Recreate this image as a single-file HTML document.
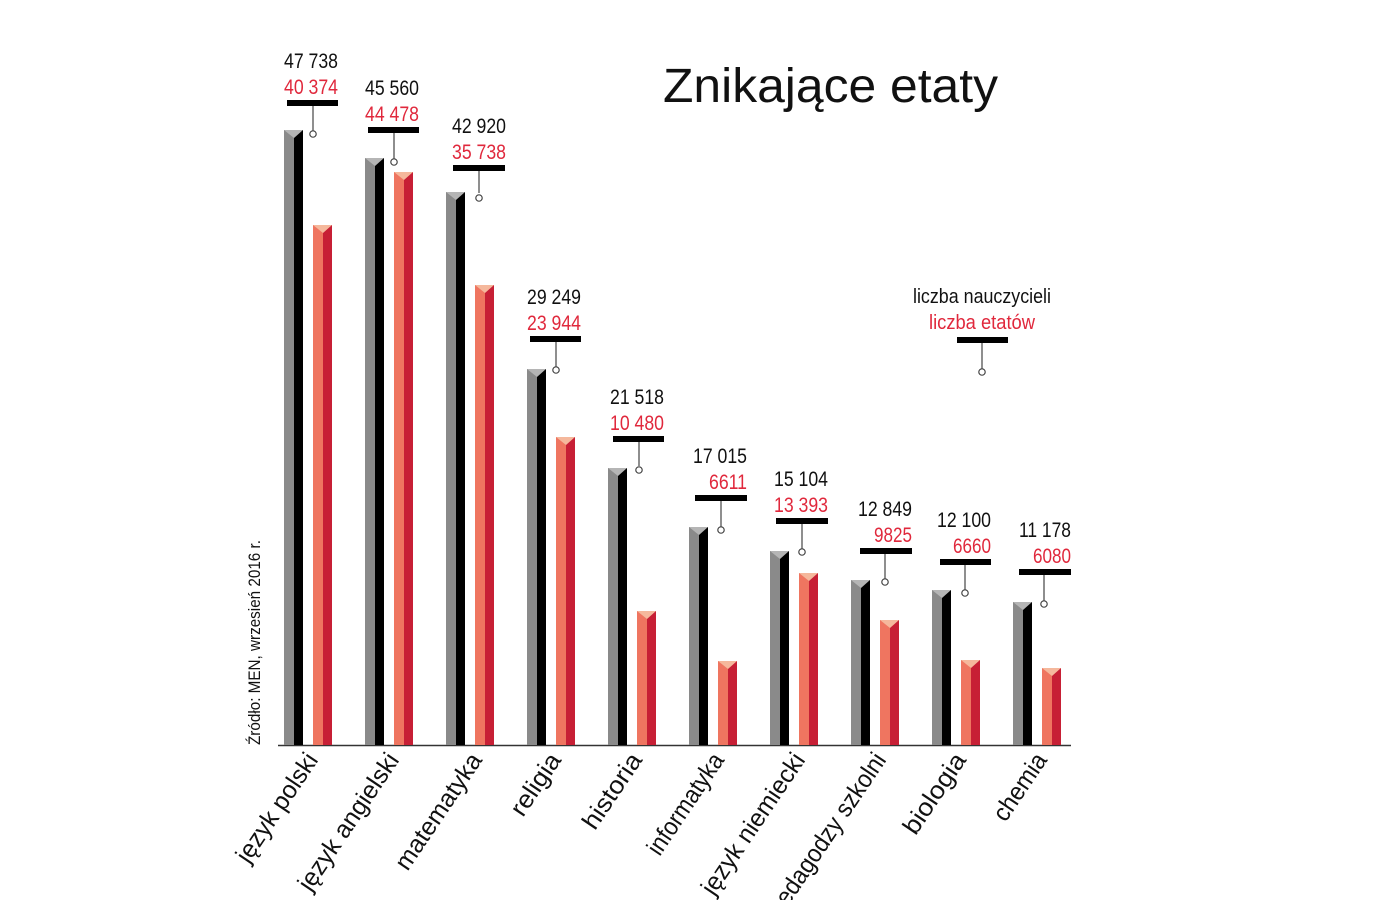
<!DOCTYPE html>
<html><head><meta charset="utf-8"><style>
html,body{margin:0;padding:0;background:#fff}
svg{display:block}
text{font-family:"Liberation Sans","DejaVu Sans",sans-serif}
.g{fill:#8a8a8a}.k{fill:#000}.gc{fill:#b5b5b5}.s{fill:#ef7560}.d{fill:#c71f35}.sc{fill:#f5b89c}
.st{stroke:#444;stroke-width:1.2}
.ci{fill:#fff;stroke:#444;stroke-width:1.2}
.b{font-size:21px;text-anchor:end;fill:#111}
.r{font-size:21px;text-anchor:end;fill:#e0283c}
.c{font-size:25px;text-anchor:end;fill:#111}
</style></head><body>
<svg width="1400" height="900" viewBox="0 0 1400 900" xmlns="http://www.w3.org/2000/svg">
<text x="663" y="102" font-size="48" textLength="335" lengthAdjust="spacingAndGlyphs" fill="#111">Znikające etaty</text>
<line x1="278" y1="745.5" x2="1071" y2="745.5" stroke="#333" stroke-width="1.5"/>

<g transform="translate(284,0)">
<rect class="g" x="0" y="130" width="10" height="615"/><rect class="k" x="10" y="130" width="9" height="615"/><polygon class="gc" points="0,130 19,130 10,138"/>
<rect class="s" x="29" y="225" width="10" height="520"/><rect class="d" x="39" y="225" width="9" height="520"/><polygon class="sc" points="29,225 48,225 39,233"/>
<rect class="k" x="3" y="100" width="51" height="6"/><line class="st" x1="29" y1="106" x2="29" y2="131"/><circle class="ci" cx="29" cy="134" r="3.2"/>
<text class="b" x="54" y="68" textLength="54" lengthAdjust="spacingAndGlyphs">47 738</text>
<text class="r" x="54" y="94" textLength="54" lengthAdjust="spacingAndGlyphs">40 374</text>
<text class="c" transform="translate(35,760) rotate(-56)" textLength="126" lengthAdjust="spacingAndGlyphs">język polski</text>
</g>

<g transform="translate(365,0)">
<rect class="g" x="0" y="158" width="10" height="587"/><rect class="k" x="10" y="158" width="9" height="587"/><polygon class="gc" points="0,158 19,158 10,166"/>
<rect class="s" x="29" y="172" width="10" height="573"/><rect class="d" x="39" y="172" width="9" height="573"/><polygon class="sc" points="29,172 48,172 39,180"/>
<rect class="k" x="3" y="127" width="51" height="6"/><line class="st" x1="29" y1="133" x2="29" y2="159"/><circle class="ci" cx="29" cy="162" r="3.2"/>
<text class="b" x="54" y="95" textLength="54" lengthAdjust="spacingAndGlyphs">45 560</text>
<text class="r" x="54" y="121" textLength="54" lengthAdjust="spacingAndGlyphs">44 478</text>
<text class="c" transform="translate(35,760) rotate(-56)" textLength="160" lengthAdjust="spacingAndGlyphs">język angielski</text>
</g>

<g transform="translate(446,0)">
<rect class="g" x="0" y="192" width="10" height="553"/><rect class="k" x="10" y="192" width="9" height="553"/><polygon class="gc" points="0,192 19,192 10,200"/>
<rect class="s" x="29" y="285" width="10" height="460"/><rect class="d" x="39" y="285" width="9" height="460"/><polygon class="sc" points="29,285 48,285 39,293"/>
<rect class="k" x="7" y="165" width="52" height="6"/><line class="st" x1="33" y1="171" x2="33" y2="193"/><circle class="ci" cx="33" cy="198" r="3.2"/>
<text class="b" x="60" y="133" textLength="54" lengthAdjust="spacingAndGlyphs">42 920</text>
<text class="r" x="60" y="159" textLength="54" lengthAdjust="spacingAndGlyphs">35 738</text>
<text class="c" transform="translate(37,760) rotate(-56)" textLength="135" lengthAdjust="spacingAndGlyphs">matematyka</text>
</g>

<g transform="translate(527,0)">
<rect class="g" x="0" y="369" width="10" height="376"/><rect class="k" x="10" y="369" width="9" height="376"/><polygon class="gc" points="0,369 19,369 10,377"/>
<rect class="s" x="29" y="437" width="10" height="308"/><rect class="d" x="39" y="437" width="9" height="308"/><polygon class="sc" points="29,437 48,437 39,445"/>
<rect class="k" x="3" y="336" width="51" height="6"/><line class="st" x1="29" y1="342" x2="29" y2="367"/><circle class="ci" cx="29" cy="370" r="3.2"/>
<text class="b" x="54" y="304" textLength="54" lengthAdjust="spacingAndGlyphs">29 249</text>
<text class="r" x="54" y="330" textLength="54" lengthAdjust="spacingAndGlyphs">23 944</text>
<text class="c" transform="translate(35,760) rotate(-56)" textLength="70" lengthAdjust="spacingAndGlyphs">religia</text>
</g>

<g transform="translate(608,0)">
<rect class="g" x="0" y="468" width="10" height="277"/><rect class="k" x="10" y="468" width="9" height="277"/><polygon class="gc" points="0,468 19,468 10,476"/>
<rect class="s" x="29" y="611" width="10" height="134"/><rect class="d" x="39" y="611" width="9" height="134"/><polygon class="sc" points="29,611 48,611 39,619"/>
<rect class="k" x="5" y="436" width="51" height="6"/><line class="st" x1="31" y1="442" x2="31" y2="466"/><circle class="ci" cx="31" cy="470" r="3.2"/>
<text class="b" x="56" y="404" textLength="54" lengthAdjust="spacingAndGlyphs">21 518</text>
<text class="r" x="56" y="430" textLength="54" lengthAdjust="spacingAndGlyphs">10 480</text>
<text class="c" transform="translate(35,760) rotate(-56)" textLength="86" lengthAdjust="spacingAndGlyphs">historia</text>
</g>

<g transform="translate(689,0)">
<rect class="g" x="0" y="527" width="10" height="218"/><rect class="k" x="10" y="527" width="9" height="218"/><polygon class="gc" points="0,527 19,527 10,535"/>
<rect class="s" x="29" y="661" width="10" height="84"/><rect class="d" x="39" y="661" width="9" height="84"/><polygon class="sc" points="29,661 48,661 39,669"/>
<rect class="k" x="6" y="495" width="52" height="6"/><line class="st" x1="32" y1="501" x2="32" y2="527"/><circle class="ci" cx="32" cy="530" r="3.2"/>
<text class="b" x="58" y="463" textLength="54" lengthAdjust="spacingAndGlyphs">17 015</text>
<text class="r" x="58" y="489" textLength="38" lengthAdjust="spacingAndGlyphs">6611</text>
<text class="c" transform="translate(36,760) rotate(-56)" textLength="117" lengthAdjust="spacingAndGlyphs">informatyka</text>
</g>

<g transform="translate(770,0)">
<rect class="g" x="0" y="551" width="10" height="194"/><rect class="k" x="10" y="551" width="9" height="194"/><polygon class="gc" points="0,551 19,551 10,559"/>
<rect class="s" x="29" y="573" width="10" height="172"/><rect class="d" x="39" y="573" width="9" height="172"/><polygon class="sc" points="29,573 48,573 39,581"/>
<rect class="k" x="6" y="518" width="52" height="6"/><line class="st" x1="32" y1="524" x2="32" y2="549"/><circle class="ci" cx="32" cy="552" r="3.2"/>
<text class="b" x="58" y="486" textLength="54" lengthAdjust="spacingAndGlyphs">15 104</text>
<text class="r" x="58" y="512" textLength="54" lengthAdjust="spacingAndGlyphs">13 393</text>
<text class="c" transform="translate(36,760) rotate(-56)" textLength="165" lengthAdjust="spacingAndGlyphs">język niemiecki</text>
</g>

<g transform="translate(851,0)">
<rect class="g" x="0" y="580" width="10" height="165"/><rect class="k" x="10" y="580" width="9" height="165"/><polygon class="gc" points="0,580 19,580 10,588"/>
<rect class="s" x="29" y="620" width="10" height="125"/><rect class="d" x="39" y="620" width="9" height="125"/><polygon class="sc" points="29,620 48,620 39,628"/>
<rect class="k" x="9" y="548" width="52" height="6"/><line class="st" x1="34" y1="554" x2="34" y2="579"/><circle class="ci" cx="34" cy="582" r="3.2"/>
<text class="b" x="61" y="516" textLength="54" lengthAdjust="spacingAndGlyphs">12 849</text>
<text class="r" x="61" y="542" textLength="38" lengthAdjust="spacingAndGlyphs">9825</text>
<text class="c" transform="translate(36,760) rotate(-56)" textLength="190" lengthAdjust="spacingAndGlyphs">pedagodzy szkolni</text>
</g>

<g transform="translate(932,0)">
<rect class="g" x="0" y="590" width="10" height="155"/><rect class="k" x="10" y="590" width="9" height="155"/><polygon class="gc" points="0,590 19,590 10,598"/>
<rect class="s" x="29" y="660" width="10" height="85"/><rect class="d" x="39" y="660" width="9" height="85"/><polygon class="sc" points="29,660 48,660 39,668"/>
<rect class="k" x="8" y="559" width="51" height="6"/><line class="st" x1="33" y1="565" x2="33" y2="590"/><circle class="ci" cx="33" cy="593" r="3.2"/>
<text class="b" x="59" y="527" textLength="54" lengthAdjust="spacingAndGlyphs">12 100</text>
<text class="r" x="59" y="553" textLength="38" lengthAdjust="spacingAndGlyphs">6660</text>
<text class="c" transform="translate(35,760) rotate(-56)" textLength="92" lengthAdjust="spacingAndGlyphs">biologia</text>
</g>

<g transform="translate(1013,0)">
<rect class="g" x="0" y="602" width="10" height="143"/><rect class="k" x="10" y="602" width="9" height="143"/><polygon class="gc" points="0,602 19,602 10,610"/>
<rect class="s" x="29" y="668" width="10" height="77"/><rect class="d" x="39" y="668" width="9" height="77"/><polygon class="sc" points="29,668 48,668 39,676"/>
<rect class="k" x="6" y="569" width="52" height="6"/><line class="st" x1="31" y1="575" x2="31" y2="601"/><circle class="ci" cx="31" cy="604" r="3.2"/>
<text class="b" x="58" y="537" textLength="52" lengthAdjust="spacingAndGlyphs">11 178</text>
<text class="r" x="58" y="563" textLength="38" lengthAdjust="spacingAndGlyphs">6080</text>
<text class="c" transform="translate(35,760) rotate(-56)" textLength="76" lengthAdjust="spacingAndGlyphs">chemia</text>
</g>

<text x="982" y="303" font-size="20" text-anchor="middle" textLength="138" lengthAdjust="spacingAndGlyphs" fill="#111">liczba nauczycieli</text>
<text x="982" y="329" font-size="20" text-anchor="middle" textLength="106" lengthAdjust="spacingAndGlyphs" fill="#e0283c">liczba etatów</text>
<rect x="957" y="337" width="51" height="6" fill="#000"/>
<line x1="982" y1="343" x2="982" y2="369" stroke="#444" stroke-width="1.2"/>
<circle cx="982" cy="372" r="3.2" fill="#fff" stroke="#444" stroke-width="1.2"/>
<text transform="translate(260,745) rotate(-90)" font-size="17" textLength="205" lengthAdjust="spacingAndGlyphs" fill="#111">Źródło: MEN, wrzesień 2016 r.</text>
</svg>
</body></html>
